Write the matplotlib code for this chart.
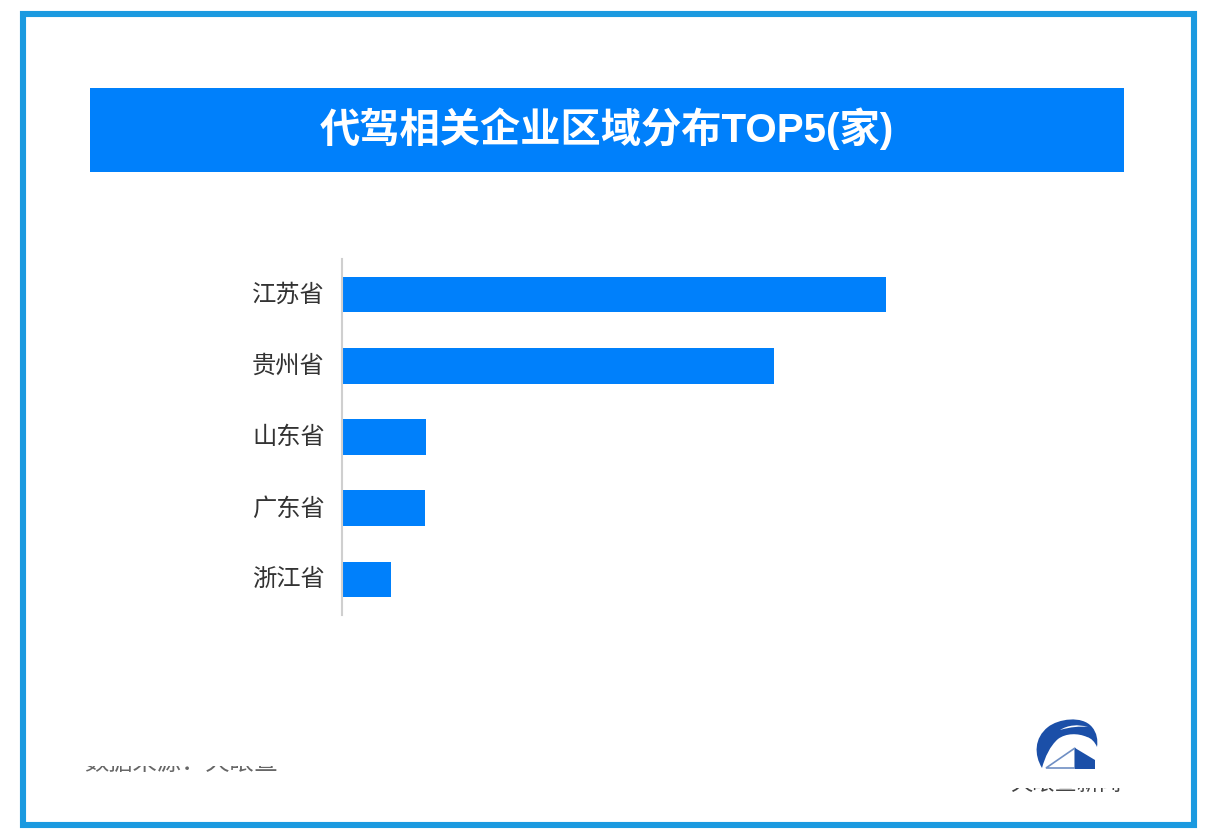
import matplotlib
matplotlib.use("Agg")
import matplotlib.pyplot as plt
from matplotlib.patches import PathPatch, Polygon, Rectangle
from matplotlib.path import Path
from matplotlib.transforms import ScaledTranslation

plt.rcParams['font.family'] = ['Liberation Sans', 'Noto Sans CJK SC', 'DejaVu Sans']

# bar lengths, no value axis in the original
provinces = ["江苏省", "贵州省", "山东省", "广东省", "浙江省"]
counts = [544, 432, 84, 83, 49]

title = "代驾相关企业区域分布TOP5(家)"
source = "数据来源：天眼查"
logo_text = "天眼查新闻"

BLUE = "#0080fb"
FRAME = "#1b9ae0"
LOGO = "#1b4fa8"
W, H = 1214, 840

fig = plt.figure(figsize=(W / 100, H / 100), dpi=100, facecolor="white")

# overlay in pixel coordinates for frame, banner, footer and logo
bg = fig.add_axes([0, 0, 1, 1])
bg.set_xlim(0, W)
bg.set_ylim(H, 0)
bg.axis("off")

bg.add_patch(Rectangle((23, 14), 1171, 811, fill=False, ec=FRAME, lw=4.4))
bg.add_patch(Rectangle((90, 88), 1034, 84, fc=BLUE, ec="none"))
bg.text(607, 129, title, color="white", fontsize=29, fontweight="bold",
        ha="center", va="center")

# footer texts are cut through in the original, only the lower edge shows
bg.text(181, 764, source, color="#666666", fontsize=17.5, ha="center", va="center")
bg.add_patch(Rectangle((70, 740), 230, 26, fc="white", ec="none", zorder=3))
bg.text(1066, 785, logo_text, color="#444444", fontsize=16, ha="center", va="center")
bg.add_patch(Rectangle((1000, 770), 135, 18, fc="white", ec="none", zorder=3))

# logo swoosh
swoosh = Path(
    [(1042, 768), (1034, 755), (1034, 738), (1048, 727), (1058, 719), (1082, 715),
     (1092, 727), (1097, 733), (1098, 740), (1097, 747), (1095, 742), (1091, 738), (1087, 737),
     (1078, 733), (1066, 733), (1058, 739), (1050, 746), (1045, 757), (1042, 768)],
    [Path.MOVETO, Path.CURVE4, Path.CURVE4, Path.CURVE4, Path.CURVE4, Path.CURVE4,
     Path.CURVE4, Path.CURVE4, Path.CURVE4, Path.CURVE4, Path.CURVE4, Path.CURVE4, Path.CURVE4,
     Path.CURVE4, Path.CURVE4, Path.CURVE4, Path.CURVE4, Path.CURVE4, Path.CURVE4])
bg.add_patch(PathPatch(swoosh, fc=LOGO, ec="none"))
streak = Path([(1060, 730), (1068, 725), (1078, 724), (1088, 727), (1080, 726), (1070, 727), (1060, 730)],
              [Path.MOVETO, Path.CURVE4, Path.CURVE4, Path.CURVE4, Path.CURVE4, Path.CURVE4, Path.CURVE4])
bg.add_patch(PathPatch(streak, fc="white", ec="none"))
bg.add_patch(Polygon([(1046, 768), (1075, 748), (1075, 768)], closed=True, fc="white", ec="#6f8fc4", lw=1.2))
bg.add_patch(Polygon([(1075, 748), (1095, 760), (1095, 769), (1075, 769)], closed=True, fc=LOGO, ec="none"))

# bar chart
ax = fig.add_axes([342 / W, 1 - 615 / H, 700 / W, 356 / H])
ax.patch.set_alpha(0)
ax.barh(provinces, counts, height=0.5, color=BLUE)
ax.set_xlim(0, 700)
ax.set_ylim(4.5, -0.5)
ax.xaxis.set_visible(False)
for side in ["top", "right", "bottom"]:
    ax.spines[side].set_visible(False)
ax.spines["left"].set_color("#cfcfcf")
ax.spines["left"].set_linewidth(1.5)
ax.tick_params(axis="y", length=0, pad=12.5, labelsize=17.5, labelcolor="#333333")
# labels sit a touch above the bar centres
nudge = ScaledTranslation(0, 1.5 / 100, fig.dpi_scale_trans)
for lab in ax.get_yticklabels():
    lab.set_transform(lab.get_transform() + nudge)

fig.savefig("out.png", dpi=100)
